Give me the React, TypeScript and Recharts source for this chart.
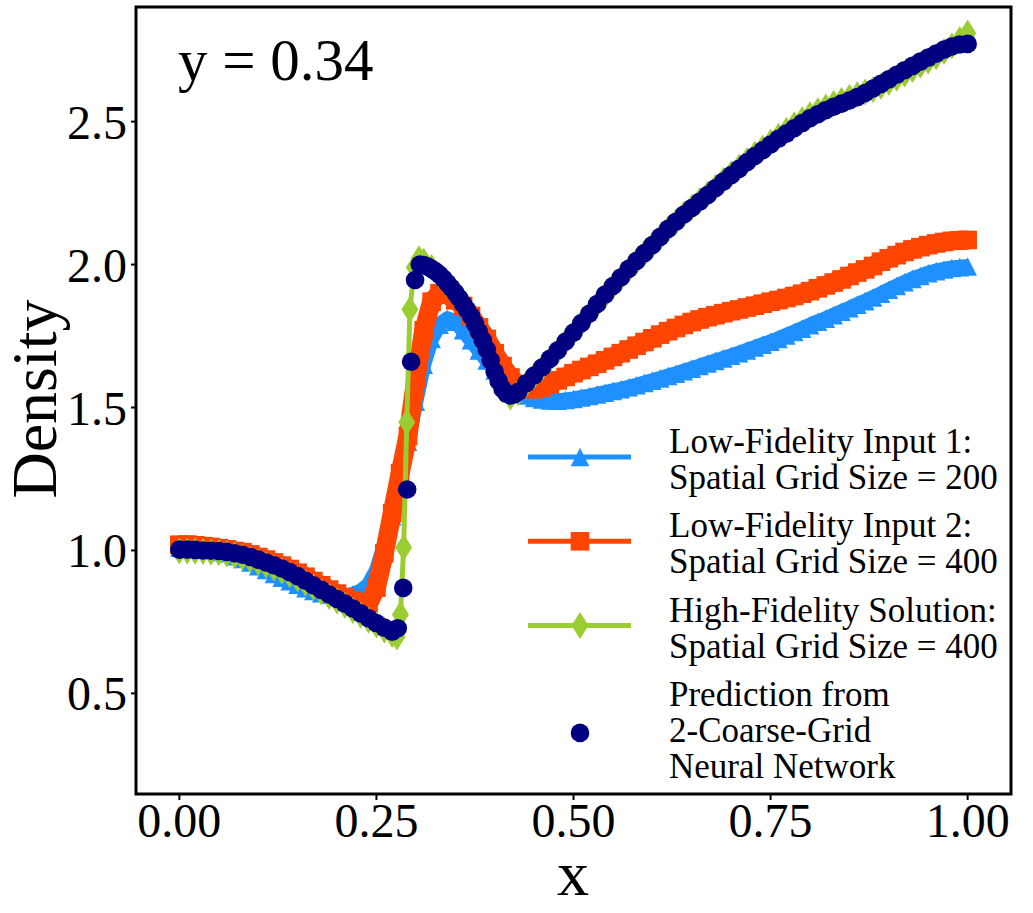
import React from "react";
import { ScatterChart, Scatter, XAxis, YAxis, ReferenceArea } from "recharts";

const FONT = '"Liberation Serif", "Times New Roman", Times, serif';
const BLUE = "#1E90FF";
const RED = "#FF4500";
const GREEN = "#9ACD32";
const NAVY = "#000080";

// x grid of the two low-fidelity inputs (0.00 .. 1.00 by 0.01)
const xGrid = Array.from({ length: 101 }, (_, i) => i / 100);

const lowFid1Y = [
  1.01, 1.01, 1.01, 1.005, 1.0, 0.995, 0.99, 0.98, 0.97, 0.958,
  0.945, 0.932, 0.918, 0.905, 0.892, 0.88, 0.868, 0.858, 0.85, 0.845,
  0.842, 0.842, 0.846, 0.858, 0.88, 0.93, 1.02, 1.12, 1.24, 1.38,
  1.52, 1.65, 1.74, 1.79, 1.81, 1.8, 1.77, 1.735, 1.7, 1.665,
  1.63, 1.6, 1.575, 1.555, 1.542, 1.533, 1.528, 1.525, 1.524, 1.526,
  1.53, 1.535, 1.54, 1.546, 1.552, 1.558, 1.564, 1.571, 1.578, 1.586,
  1.594, 1.602, 1.61, 1.618, 1.627, 1.636, 1.645, 1.654, 1.663, 1.672,
  1.681, 1.69, 1.7, 1.71, 1.72, 1.73, 1.74, 1.752, 1.764, 1.776,
  1.788, 1.8, 1.811, 1.823, 1.835, 1.847, 1.86, 1.872, 1.885, 1.898,
  1.912, 1.925, 1.938, 1.95, 1.96, 1.97, 1.977, 1.983, 1.988, 1.991,
  1.993,
];

const lowFid2Y = [
  1.02, 1.02, 1.018, 1.015, 1.012, 1.008, 1.004, 0.998, 0.994, 0.986,
  0.977, 0.968, 0.958, 0.947, 0.935, 0.922, 0.908, 0.893, 0.878, 0.863,
  0.849, 0.836, 0.825, 0.816, 0.814, 0.87, 0.99, 1.13, 1.27, 1.4,
  1.6, 1.77, 1.87, 1.9, 1.895, 1.875, 1.855, 1.82, 1.78, 1.74,
  1.69, 1.645, 1.605, 1.58, 1.566, 1.564, 1.57, 1.582, 1.595, 1.607,
  1.62, 1.631, 1.642, 1.653, 1.665, 1.677, 1.69, 1.703, 1.716, 1.729,
  1.742, 1.755, 1.767, 1.778, 1.789, 1.799, 1.808, 1.816, 1.823, 1.83,
  1.837, 1.843, 1.85, 1.856, 1.863, 1.87, 1.876, 1.883, 1.89, 1.898,
  1.907, 1.917, 1.927, 1.937, 1.948, 1.96, 1.972, 1.983, 1.995, 2.01,
  2.022, 2.033, 2.044, 2.053, 2.061, 2.068, 2.074, 2.079, 2.083, 2.085,
  2.086,
];

const highFid: [number, number][] = [
  [0, 0.998], [0.01, 0.998], [0.02, 0.997], [0.03, 0.996], [0.04, 0.994],
  [0.05, 0.992], [0.06, 0.988], [0.07, 0.982], [0.08, 0.976], [0.09, 0.968],
  [0.1, 0.959], [0.11, 0.949], [0.12, 0.939], [0.13, 0.928], [0.14, 0.915],
  [0.15, 0.901], [0.16, 0.886], [0.17, 0.871], [0.18, 0.855], [0.19, 0.839],
  [0.2, 0.823], [0.21, 0.807], [0.22, 0.79], [0.23, 0.773], [0.24, 0.756],
  [0.25, 0.739], [0.26, 0.722], [0.27, 0.706], [0.276, 0.697],
  [0.2805, 0.776], [0.2845, 1.01], [0.2885, 1.448], [0.2925, 1.843],
  [0.298, 1.99], [0.304, 2.02], [0.31, 2.012], [0.32, 1.99], [0.33, 1.962],
  [0.34, 1.93], [0.35, 1.895], [0.36, 1.855], [0.37, 1.81], [0.38, 1.757],
  [0.39, 1.695], [0.4, 1.622], [0.41, 1.56], [0.42, 1.537], [0.43, 1.552],
  [0.44, 1.582], [0.45, 1.61], [0.46, 1.638], [0.47, 1.668], [0.48, 1.698],
  [0.49, 1.73], [0.5, 1.762], [0.51, 1.795], [0.52, 1.828], [0.53, 1.86],
  [0.54, 1.892], [0.55, 1.923], [0.56, 1.953], [0.57, 1.983], [0.58, 2.012],
  [0.59, 2.04], [0.6, 2.068], [0.61, 2.096], [0.62, 2.124], [0.63, 2.15],
  [0.64, 2.176], [0.65, 2.2], [0.66, 2.223], [0.67, 2.247], [0.68, 2.27],
  [0.69, 2.294], [0.7, 2.317], [0.71, 2.34], [0.72, 2.363], [0.73, 2.386],
  [0.74, 2.407], [0.75, 2.428], [0.76, 2.449], [0.77, 2.469], [0.78, 2.489],
  [0.79, 2.507], [0.8, 2.524], [0.81, 2.538], [0.82, 2.551], [0.83, 2.563],
  [0.84, 2.574], [0.85, 2.584], [0.86, 2.594], [0.87, 2.604], [0.88, 2.612],
  [0.89, 2.624], [0.9, 2.638], [0.91, 2.652], [0.92, 2.667], [0.93, 2.682],
  [0.94, 2.697], [0.95, 2.712], [0.96, 2.727], [0.97, 2.745], [0.98, 2.765],
  [0.99, 2.787], [1.0, 2.81],
];

const prediction: [number, number][] = [
  [0, 1.003], [0.01, 1.003], [0.02, 1.002], [0.03, 1.0], [0.04, 0.999],
  [0.05, 0.998], [0.06, 0.995], [0.07, 0.99], [0.08, 0.985], [0.09, 0.977],
  [0.1, 0.968], [0.11, 0.958], [0.12, 0.948], [0.13, 0.937], [0.14, 0.924],
  [0.15, 0.91], [0.16, 0.894], [0.17, 0.878], [0.18, 0.862], [0.19, 0.846],
  [0.2, 0.83], [0.21, 0.814], [0.22, 0.797], [0.23, 0.78], [0.24, 0.763],
  [0.25, 0.746], [0.26, 0.73], [0.27, 0.716], [0.277, 0.728],
  [0.284, 0.869], [0.289, 1.213], [0.294, 1.66], [0.299, 1.946],
  [0.305, 2.0], [0.31, 1.998], [0.315, 1.993], [0.32, 1.985], [0.325, 1.976],
  [0.33, 1.965], [0.335, 1.951], [0.34, 1.935], [0.345, 1.919], [0.35, 1.902],
  [0.355, 1.883], [0.36, 1.862], [0.365, 1.842], [0.37, 1.82], [0.375, 1.793],
  [0.38, 1.765], [0.385, 1.735], [0.39, 1.703], [0.395, 1.665], [0.4, 1.625],
  [0.405, 1.593], [0.41, 1.565], [0.415, 1.548], [0.42, 1.542], [0.425, 1.546],
  [0.43, 1.555], [0.44, 1.585],
  [0.45, 1.612], [0.46, 1.64], [0.47, 1.67], [0.48, 1.7], [0.49, 1.731],
  [0.5, 1.762], [0.51, 1.795], [0.52, 1.828], [0.53, 1.862], [0.54, 1.895],
  [0.55, 1.925], [0.56, 1.955], [0.57, 1.985], [0.58, 2.013], [0.59, 2.04],
  [0.6, 2.068], [0.61, 2.097], [0.62, 2.125], [0.63, 2.15], [0.64, 2.175],
  [0.65, 2.198], [0.66, 2.22], [0.67, 2.243], [0.68, 2.267], [0.69, 2.29],
  [0.7, 2.313], [0.71, 2.335], [0.72, 2.358], [0.73, 2.38], [0.74, 2.4],
  [0.75, 2.42], [0.76, 2.44], [0.77, 2.458], [0.78, 2.477], [0.79, 2.495],
  [0.8, 2.512], [0.81, 2.526], [0.82, 2.54], [0.83, 2.552], [0.84, 2.563],
  [0.85, 2.574], [0.86, 2.586], [0.87, 2.6], [0.88, 2.616], [0.89, 2.632],
  [0.9, 2.648], [0.91, 2.664], [0.92, 2.68], [0.93, 2.695], [0.94, 2.71],
  [0.95, 2.724], [0.96, 2.738], [0.97, 2.752], [0.98, 2.763], [0.99, 2.77],
  [1.0, 2.772],
];

const xTicks = [0, 0.25, 0.5, 0.75, 1];
const yTicks = [0.5, 1.0, 1.5, 2.0, 2.5];
const xDomain: [number, number] = [-0.055, 1.055];
const yDomain: [number, number] = [0.148, 2.901];

const legendItems = [
  { marker: "triangle", color: BLUE, lines: ["Low-Fidelity Input 1:", "Spatial Grid Size = 200"] },
  { marker: "square", color: RED, lines: ["Low-Fidelity Input 2:", "Spatial Grid Size = 400"] },
  { marker: "diamond", color: GREEN, lines: ["High-Fidelity Solution:", "Spatial Grid Size = 400"] },
  { marker: "circle", color: NAVY, lines: ["Prediction from", "2-Coarse-Grid", "Neural Network"] },
];

const lowFid1 = xGrid.map((x, i) => ({ x, y: lowFid1Y[i] }));
const lowFid2 = xGrid.map((x, i) => ({ x, y: lowFid2Y[i] }));
const highFidData = highFid.map(([x, y]) => ({ x, y }));
const predictionData = prediction.map(([x, y]) => ({ x, y }));

function Marker({ type, cx, cy, color }: { type: string; cx: number; cy: number; color: string }) {
  const h = 9.3;
  if (type === "triangle")
    return <path d={`M${cx},${cy - h}L${cx + h},${cy + h}L${cx - h},${cy + h}Z`} fill={color} />;
  if (type === "square")
    return <rect x={cx - h} y={cy - h} width={2 * h} height={2 * h} fill={color} />;
  if (type === "diamond")
    return <path d={`M${cx},${cy - 13.5}L${cx + 8.5},${cy}L${cx},${cy + 13.5}L${cx - 8.5},${cy}Z`} fill={color} />;
  return <circle cx={cx} cy={cy} r={h} fill={color} />;
}

const shapeOf = (type: string, color: string) => (p: any) =>
  <Marker type={type} cx={p.cx} cy={p.cy} color={color} />;

export default function App() {
  const tickStyle = { fill: "#000", fontSize: 48, fontFamily: FONT };
  return (
    <div style={{ position: "absolute", left: 0, top: 0, width: 1033, height: 913, background: "#fff" }}>
      <ScatterChart width={1033} height={913} margin={{ top: 7, right: 22, bottom: 0, left: 0 }}>
        <XAxis
          type="number" dataKey="x" domain={xDomain} ticks={xTicks} allowDataOverflow
          tickFormatter={(v) => v.toFixed(2)} height={119}
          axisLine={false} tickLine={{ stroke: "#000", strokeWidth: 2 }} tickSize={6} tickMargin={3}
          tick={tickStyle}
        />
        <YAxis
          type="number" dataKey="y" domain={yDomain} ticks={yTicks} allowDataOverflow
          tickFormatter={(v) => v.toFixed(1)} width={136}
          axisLine={false} tickLine={{ stroke: "#000", strokeWidth: 2 }} tickSize={5} tickMargin={4}
          tick={tickStyle}
        />
        <Scatter
          data={lowFid1} fill={BLUE} isAnimationActive={false}
          line={{ stroke: BLUE, strokeWidth: 15, strokeLinejoin: "round" }} lineType="joint"
          shape={shapeOf("triangle", BLUE)}
        />
        <Scatter
          data={lowFid2} fill={RED} isAnimationActive={false}
          line={{ stroke: RED, strokeWidth: 19, strokeLinejoin: "round" }} lineType="joint"
          shape={shapeOf("square", RED)}
        />
        <Scatter
          data={highFidData} fill={GREEN} isAnimationActive={false}
          line={{ stroke: GREEN, strokeWidth: 5, strokeLinejoin: "round" }} lineType="joint"
          shape={shapeOf("diamond", GREEN)}
        />
        <Scatter
          data={predictionData} fill={NAVY} isAnimationActive={false}
          shape={shapeOf("circle", NAVY)}
        />
        <ReferenceArea
          x1={xDomain[0]} x2={xDomain[1]} y1={yDomain[0]} y2={yDomain[1]}
          fill="none" fillOpacity={0} stroke="#000" strokeWidth={3} ifOverflow="visible"
        />
      </ScatterChart>

      <svg width={1033} height={913} style={{ position: "absolute", left: 0, top: 0, pointerEvents: "none" }}>
        <text x={178} y={80} fontSize={59} fontFamily={FONT} fill="#000">y = 0.34</text>
        <text x={56} y={399} fontSize={64} fontFamily={FONT} fill="#000" textAnchor="middle"
          transform="rotate(-90 56 399)">Density</text>
        <text x={573} y={895} fontSize={64} fontFamily={FONT} fill="#000" textAnchor="middle">x</text>
        {legendItems.map((item, i) => {
          const top = 453 + i * 84.3;
          const handleY = item.lines.length === 3 ? top + 27 : top + 4;
          return (
            <g key={item.lines[0]}>
              {item.marker !== "circle" && (
                <line x1={528} x2={631} y1={handleY} y2={handleY} stroke={item.color} strokeWidth={5} />
              )}
              <Marker type={item.marker} cx={580} cy={handleY} color={item.color} />
              {item.lines.map((t, j) => (
                <text key={t} x={669} y={top + j * 36} fontSize={35} fontFamily={FONT} fill="#000">{t}</text>
              ))}
            </g>
          );
        })}
      </svg>
    </div>
  );
}
